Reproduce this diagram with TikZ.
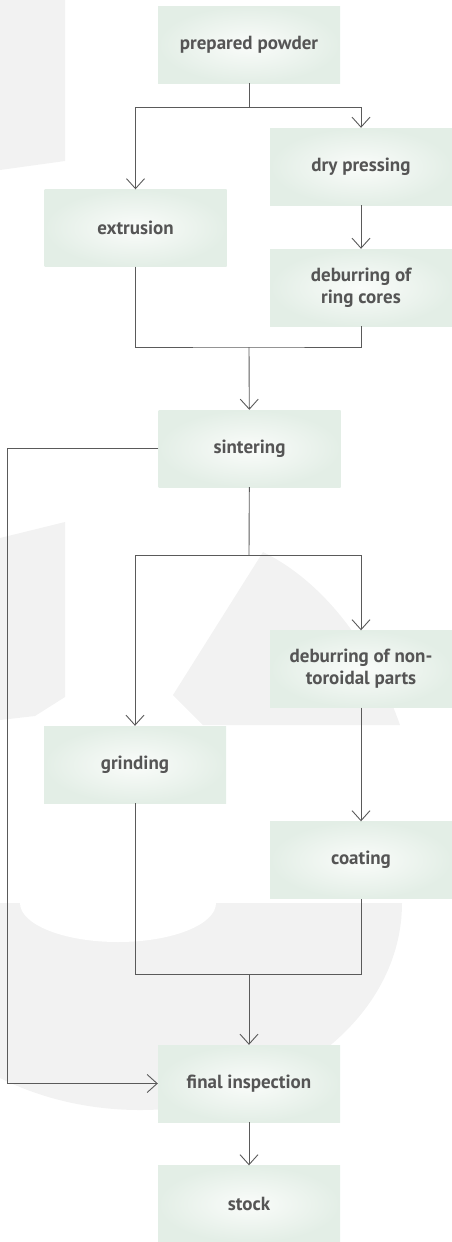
\documentclass[tikz,border=0pt]{standalone}
\usepackage{fontspec}
\setmainfont{PT Sans}
\usetikzlibrary{arrows.meta}

\definecolor{boxedge}{HTML}{E3EEE6}
\definecolor{boxmid}{HTML}{FAFCFA}
\definecolor{linegray}{HTML}{5A5A5A}
\definecolor{textgray}{HTML}{555555}
\definecolor{markgray}{HTML}{F2F2F2}

\tikzset{
  stepbox/.style={rectangle, inner sep=0pt, minimum width=182pt, minimum height=77pt,
    inner color=boxmid, outer color=boxedge, text=textgray, align=center,
    font=\fontsize{19}{22}\selectfont\bfseries},
  flow/.style={draw=linegray, line width=0.9pt},
  tip/.style={flow, -{Straight Barb[length=10pt, width=18pt, line width=0.9pt]}}
}

\begin{document}
\begin{tikzpicture}[x=1pt, y=-1pt]
  \useasboundingbox (0,0) rectangle (452,1242);

  % Faint logo shapes in the background
  \fill[markgray] (0,0) -- (65,0) -- (65,161) -- (0,170) -- cycle;
  \fill[markgray] (0,538) -- (65,522) -- (65,697) -- (35,716) -- (0,720) -- cycle;
  \fill[markgray] (263,552) -- (173,695) -- (203,725) -- (400,725)
    .. controls (370,640) and (320,580) .. (263,552) -- cycle;
  \fill[markgray] (0,903) -- (402,903) arc[start angle=0, end angle=180,
    x radius=262, y radius=207] -- cycle;
  \fill[white] (20,903) arc[start angle=180, end angle=0, x radius=98, y radius=39] -- cycle;

  % Process steps
  \node[stepbox] (powder) at (249,44.5) {prepared powder};
  \node[stepbox] (press) at (361,166.5) {dry pressing};
  \node[stepbox] (extrusion) at (135.5,228) {extrusion};
  \node[stepbox] (ringdeburr) at (361,287.5) {deburring of\\ring cores};
  \node[stepbox] (sinter) at (249.5,448.5) {sintering};
  \node[stepbox] (partdeburr) at (361,669) {deburring of non-\\toroidal parts};
  \node[stepbox] (grind) at (135,764.5) {grinding};
  \node[stepbox] (coat) at (361,860) {coating};
  \node[stepbox] (inspect) at (249,1083.5) {final inspection};
  \node[stepbox] (stock) at (249,1204) {stock};

  % Branch and join points
  \coordinate (split1) at (249,107);
  \coordinate (join1) at (249,347);
  \coordinate (split2) at (249,555);
  \coordinate (join2) at (249,974);
  \coordinate (bypass) at (7,448.5);

  % Forming
  \draw[flow] (powder) -- (split1);
  \draw[tip] (split1) -| (extrusion);
  \draw[tip] (split1) -| (press);
  \draw[tip] (press) -- (ringdeburr);
  \draw[flow] (extrusion) |- (join1) -| (ringdeburr);
  \draw[tip] (join1) -- (sinter);

  % Finishing
  \draw[flow] (sinter) -- (split2);
  \draw[tip] (split2) -| (grind);
  \draw[tip] (split2) -| (partdeburr);
  \draw[tip] (partdeburr) -- (coat);
  \draw[flow] (grind) |- (join2) -| (coat);
  \draw[tip] (join2) -- (inspect);
  \draw[tip] (sinter) -- (bypass) |- (inspect);
  \draw[tip] (inspect) -- (stock);
\end{tikzpicture}
\end{document}
